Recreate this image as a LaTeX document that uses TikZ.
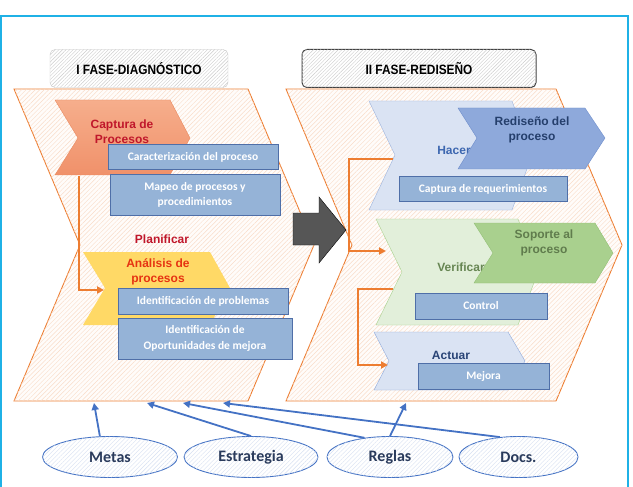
\documentclass[tikz,border=0pt]{standalone}
\usepackage{fontspec}
\setmainfont{Liberation Sans}
\newfontfamily\calibrifont{Carlito}
\newfontfamily\narrowfont{Liberation Sans}[FakeStretch=0.88]
\usetikzlibrary{arrows.meta, shapes.geometric, patterns.meta}

\definecolor{frameCyan}{HTML}{1FB1E6}
\definecolor{phaseOrange}{HTML}{ED7D31}
\definecolor{hatchOrange}{HTML}{F9DCC8}
\definecolor{boxBlue}{HTML}{95B3D7}
\definecolor{boxEdge}{HTML}{4F6FA8}
\definecolor{linkBlue}{HTML}{4472C4}
\definecolor{srcText}{HTML}{2A3B5C}
\definecolor{darkRed}{HTML}{C0172B}
\definecolor{brightRed}{HTML}{E63312}
\definecolor{capTop}{HTML}{F6AE8C}
\definecolor{capBottom}{HTML}{F0916A}
\definecolor{capEdge}{HTML}{E98A60}
\definecolor{anaYellow}{HTML}{FFD966}
\definecolor{paleBlue}{HTML}{DAE3F3}
\definecolor{paleBlueEdge}{HTML}{9DB4DE}
\definecolor{midBlue}{HTML}{8EA9DB}
\definecolor{midBlueEdge}{HTML}{6E8DCB}
\definecolor{paleGreen}{HTML}{E2EFDA}
\definecolor{paleGreenEdge}{HTML}{A9D18E}
\definecolor{midGreen}{HTML}{A9D08E}
\definecolor{midGreenEdge}{HTML}{93BF76}

\begin{document}
\begin{tikzpicture}[x=1pt, y=-1pt,
  phase/.style={draw=phaseOrange, line width=0.9pt, fill=orange!2,
    postaction={pattern={Lines[angle=45, distance=3.2pt, line width=0.45pt]}, pattern color=hatchOrange}},
  header/.style={rounded corners=5pt, minimum height=38, inner sep=0pt,
    font=\narrowfont\bfseries\fontsize{13.5}{16}\selectfont, fill=white,
    postaction={pattern={Lines[angle=45, distance=2.5pt, line width=0.4pt]}, pattern color=gray!40}},
  infobox/.style={draw=boxEdge, line width=1pt, fill=boxBlue, text=white, inner sep=0pt,
    align=center, font=\calibrifont\bfseries\fontsize{11.5}{15.5}\selectfont},
  chevtext/.style={align=center, font=\bfseries\fontsize{12}{15}\selectfont},
  source/.style={ellipse, draw=linkBlue, line width=0.9pt, fill=white, inner sep=0pt,
    minimum height=41, text=srcText, font=\calibrifont\bfseries\fontsize{16}{18}\selectfont,
    postaction={pattern={Lines[angle=45, distance=3pt, line width=0.4pt]}, pattern color=linkBlue!22}},
  flow/.style={phaseOrange, line width=1.8pt, -{Triangle[length=7pt, width=7pt]}},
  link/.style={linkBlue, line width=1.8pt, -{Triangle[length=7pt, width=7pt]}}]
  \useasboundingbox (0,0) rectangle (633,487);
  \clip (0,0) rectangle (633,487);

  % outer frame
  \draw[frameCyan, line width=2pt] (1,16) rectangle (628,520);

  % phase headers
  \node[header, draw=gray!45, minimum width=178] (diag) at (139,68.5) {I FASE-DIAGNÓSTICO};
  \node[header, draw=black!75, line width=1pt, minimum width=234] (redis) at (419,68.5) {II FASE-REDISEÑO};

  % phase bodies
  \draw[phase] (14,89) -- (248,89) -- (314,245) -- (248,401) -- (14,401) -- (80,245) -- cycle;
  \draw[phase] (286,89) -- (556,89) -- (622,245) -- (556,401) -- (286,401) -- (352,245) -- cycle;

  % I: planificar
  \draw[capEdge, top color=capTop, bottom color=capBottom]
    (55,100) -- (170,100) -- (190,138) -- (170,175) -- (55,175) -- (78,138) -- cycle;
  \node[chevtext, text=darkRed] (captura) at (122,132) {Captura de\\Procesos};
  \node[infobox, minimum width=170, minimum height=25] (caract) at (193,157.5) {Caracterización del proceso};
  \node[infobox, minimum width=170, minimum height=40] (mapeo) at (195,195) {Mapeo de procesos y\\procedimientos};
  \node[chevtext, text=darkRed] (planificar) at (162,239) {Planificar};
  \fill[anaYellow] (83,252) -- (210,252) -- (230,288) -- (210,325) -- (83,325) -- (105,288) -- cycle;
  \node[chevtext, text=brightRed] (analisis) at (158,272) {Análisis de\\procesos};
  \node[infobox, minimum width=170, minimum height=26] (problemas) at (203,301) {Identificación de problemas};
  \node[infobox, minimum width=174, minimum height=41] (oportunidades) at (205,338.5) {Identificación de\\Oportunidades de mejora};

  \coordinate (capFoot) at (79,176);
  \coordinate (anaNotch) at (104,290);
  \draw[flow] (capFoot) |- (anaNotch);

  % II: hacer
  \draw[paleBlueEdge, fill=paleBlue]
    (369,101) -- (512,101) -- (532,155) -- (512,210) -- (369,210) -- (395,155) -- cycle;
  \node[chevtext, text=linkBlue!90!black] (hacer) at (454,150) {Hacer};
  \draw[midBlueEdge, fill=midBlue]
    (458,108) -- (585,108) -- (605,138) -- (585,169) -- (458,169) -- (477,138) -- cycle;
  \node[chevtext, text=linkBlue!55!black] (rediseno) at (532,130) {Rediseño del\\proceso};
  \node[infobox, minimum width=168, minimum height=24] (requerimientos) at (483,189) {Captura de requerimientos};

  % II: verificar
  \draw[paleGreenEdge, fill=paleGreen]
    (376,219) -- (518,219) -- (538,272) -- (518,325) -- (376,325) -- (402,272) -- cycle;
  \node[chevtext, text=midGreenEdge!70!black] (verificar) at (461,267) {Verificar};
  \draw[midGreenEdge, fill=midGreen]
    (474,223) -- (595,223) -- (613,253) -- (595,283) -- (474,283) -- (493,253) -- cycle;
  \node[chevtext, text=midGreenEdge!65!black] (soporte) at (544,243) {Soporte al\\proceso};
  \node[infobox, minimum width=132, minimum height=26] (control) at (481,306) {Control};

  % II: actuar
  \draw[midBlue, fill=paleBlue]
    (374,332) -- (508,332) -- (525,361) -- (508,390) -- (374,390) -- (389,361) -- cycle;
  \node[chevtext, text=linkBlue!60!black] (actuar) at (451,355) {Actuar};
  \node[infobox, minimum width=131, minimum height=26] (mejora) at (483.5,376) {Mejora};

  \coordinate (hacerNotch) at (393,159);
  \coordinate (verifIn) at (386,251);
  \draw[flow] (hacerNotch) -- ++(-44,0) |- (verifIn);
  \coordinate (verifOut) at (393,289);
  \coordinate (actIn) at (388,365);
  \draw[flow] (verifOut) -- ++(-35,0) |- (actIn);

  % transition arrow
  \draw[black, fill=black!72, postaction={pattern={Dots[distance=2pt, radius=0.45pt]}, pattern color=white}]
    (293,213) -- (319,213) -- (319,197) -- (346,230) -- (319,263) -- (319,245) -- (293,245) -- cycle;

  % inputs
  \node[source, minimum width=135] (metas) at (110,457) {Metas};
  \node[source, minimum width=134] (estrategia) at (251,457) {Estrategia};
  \node[source, minimum width=126] (reglas) at (390,457) {Reglas};
  \node[source, minimum width=119] (docs) at (518.5,457) {Docs.};

  \coordinate (metasIn) at (94,403);
  \coordinate (estrIn) at (147,403);
  \coordinate (reglasIn) at (183,403);
  \coordinate (docsIn) at (223,403);
  \coordinate (reglasOut) at (406,403);
  \draw[link] (metas.116) -- (metasIn);
  \draw[link] (estrategia.north) -- (estrIn);
  \draw[link] (reglas.143) -- (reglasIn);
  \draw[link] (docs.133) -- (docsIn);
  \draw[link] (reglas.north) -- (reglasOut);
\end{tikzpicture}
\end{document}
